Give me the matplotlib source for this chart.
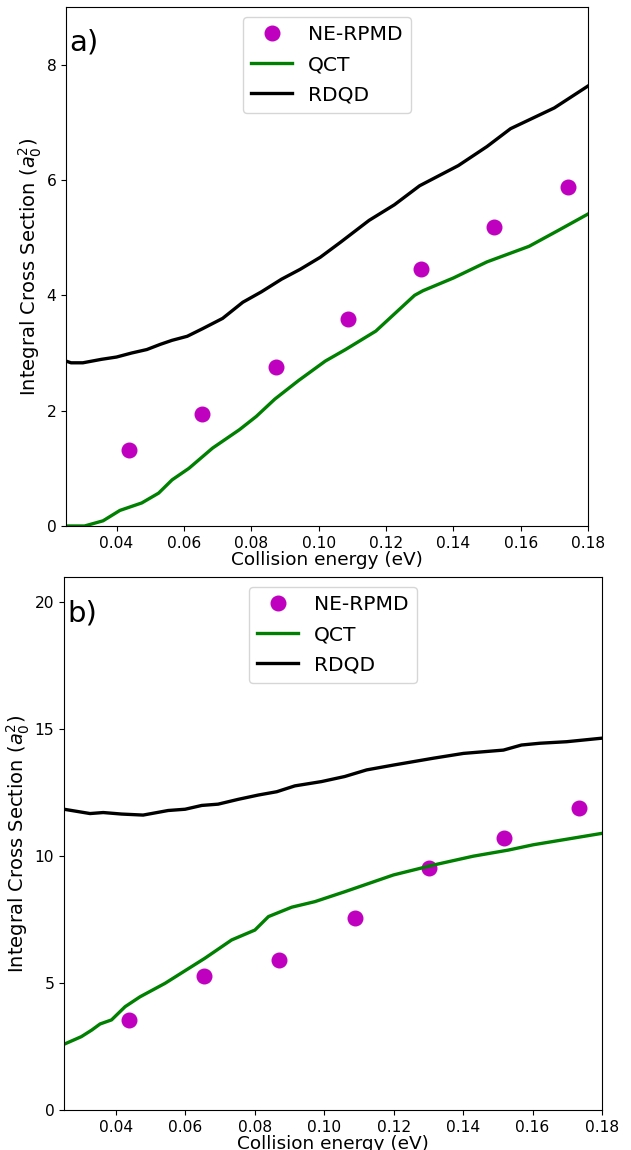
import matplotlib
matplotlib.use("Agg")
import matplotlib.pyplot as plt

# ---------------- Panel a) data ----------------
rpmd_x_a = [0.0437, 0.0655, 0.0873, 0.1087, 0.1305, 0.1522, 0.1740]
rpmd_y_a = [1.32, 1.94, 2.75, 3.59, 4.45, 5.18, 5.87]

qct_x_a = [0.025, 0.0305, 0.036, 0.041, 0.0475, 0.0525, 0.0565, 0.0615, 0.0685,
           0.0765, 0.0815, 0.087, 0.094, 0.102, 0.108, 0.117, 0.1285, 0.131,
           0.140, 0.150, 0.1625, 0.171, 0.180]
qct_y_a = [0.0, 0.0, 0.09, 0.27, 0.40, 0.57, 0.80, 1.00, 1.35,
           1.67, 1.90, 2.20, 2.52, 2.86, 3.06, 3.38, 4.00, 4.08,
           4.30, 4.58, 4.85, 5.12, 5.41]

rdqd_x_a = [0.025, 0.0265, 0.030, 0.0355, 0.040, 0.0445, 0.049, 0.053, 0.0565,
            0.061, 0.0655, 0.0715, 0.0775, 0.083, 0.089, 0.0945, 0.1005, 0.1065,
            0.115, 0.1225, 0.130, 0.1415, 0.150, 0.157, 0.170, 0.180]
rdqd_y_a = [2.86, 2.83, 2.83, 2.89, 2.93, 3.00, 3.06, 3.15, 3.22,
            3.29, 3.42, 3.60, 3.88, 4.06, 4.28, 4.45, 4.66, 4.92,
            5.30, 5.57, 5.90, 6.25, 6.58, 6.89, 7.25, 7.63]

# ---------------- Panel b) data ----------------
rpmd_x_b = [0.0437, 0.0654, 0.0870, 0.1087, 0.1303, 0.1518, 0.1735]
rpmd_y_b = [3.55, 5.29, 5.91, 7.58, 9.52, 10.70, 11.89]

qct_x_b = [0.025, 0.030, 0.033, 0.0354, 0.0387, 0.0426, 0.0469, 0.0541, 0.0656,
           0.0733, 0.080, 0.0839, 0.0906, 0.0973, 0.1059, 0.1199, 0.1314, 0.1429,
           0.1530, 0.1602, 0.180]
qct_y_b = [2.59, 2.89, 3.15, 3.39, 3.55, 4.07, 4.46, 4.99, 5.98,
           6.70, 7.09, 7.62, 7.99, 8.21, 8.60, 9.26, 9.65, 10.00,
           10.24, 10.45, 10.90]

rdqd_x_b = [0.025, 0.0325, 0.0363, 0.0416, 0.0478, 0.055, 0.0599, 0.0647, 0.0694,
            0.0752, 0.081, 0.0863, 0.0915, 0.0992, 0.1059, 0.1122, 0.1199, 0.1314,
            0.1401, 0.1516, 0.1568, 0.1621, 0.1698, 0.180]
rdqd_y_b = [11.85, 11.68, 11.72, 11.66, 11.62, 11.80, 11.85, 12.00, 12.05,
            12.24, 12.41, 12.54, 12.77, 12.94, 13.14, 13.40, 13.59, 13.86,
            14.05, 14.18, 14.38, 14.45, 14.51, 14.65]

x_ticks = [0.04, 0.06, 0.08, 0.10, 0.12, 0.14, 0.16, 0.18]
y_ticks_a = [0, 2, 4, 6, 8]
y_ticks_b = [0, 5, 10, 15, 20]

W, H = 631, 1150
fig = plt.figure(figsize=(W / 100, H / 100), dpi=100)

def box(l, t, r, b):
    return [l / W, 1 - b / H, (r - l) / W, (b - t) / H]

ax_a = fig.add_axes(box(66, 7, 588, 526))
ax_b = fig.add_axes(box(64, 577, 602, 1110))

TICK_FS = 11.2
XLABEL_FS = 13.3
YLABEL_FS = 14.0
LEG_FS = 14.6
TAG_FS = 21

def draw(ax, rx, ry, qx, qy, dx, dy, yticks, ylim, tag):
    ax.plot(rx, ry, 'o', color='m', markersize=10.5, label='NE-RPMD')
    ax.plot(qx, qy, '-', color='g', linewidth=2.4, label='QCT')
    ax.plot(dx, dy, '-', color='k', linewidth=2.4, label='RDQD')
    ax.set_xlim(0.025, 0.18)
    ax.set_ylim(*ylim)
    ax.set_xticks(x_ticks)
    ax.set_xticklabels([f"{v:.2f}" for v in x_ticks])
    ax.set_yticks(yticks)
    ax.tick_params(labelsize=TICK_FS)
    ax.set_xlabel("Collision energy (eV)", fontsize=XLABEL_FS, labelpad=0)
    ax.set_ylabel(r"Integral Cross Section ($a_0^2$)", fontsize=YLABEL_FS,
                  labelpad=2)
    ax.legend(loc='upper center', fontsize=LEG_FS, handlelength=2.0,
              labelspacing=0.55)
    ax.text(0.006, 0.958, tag, transform=ax.transAxes, fontsize=TAG_FS,
            va='top', ha='left')

draw(ax_a, rpmd_x_a, rpmd_y_a, qct_x_a, qct_y_a, rdqd_x_a, rdqd_y_a,
     y_ticks_a, (0, 9), 'a)')
draw(ax_b, rpmd_x_b, rpmd_y_b, qct_x_b, qct_y_b, rdqd_x_b, rdqd_y_b,
     y_ticks_b, (0, 21), 'b)')

fig.savefig("out.png", dpi=100)
